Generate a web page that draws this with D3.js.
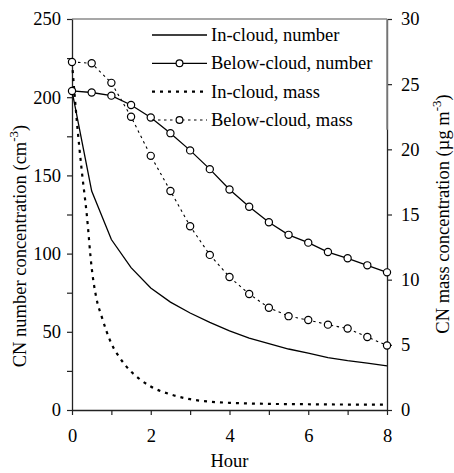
<!DOCTYPE html>
<html>
<head>
<meta charset="utf-8">
<script src="https://cdn.jsdelivr.net/npm/d3@7"></script>
<style>
body { margin: 0; background: #fff; }
svg { display: block; }
text { font-family: "Liberation Serif", "Times New Roman", serif; fill: #000; }
</style>
</head>
<body>
<svg id="graph"></svg>
<script>
// data
var hours = [0, 0.5, 1, 1.5, 2, 2.5, 3, 3.5, 4, 4.5, 5, 5.5, 6, 6.5, 7, 7.5, 8];
var inCloudNumber = [204, 140, 109, 91, 78, 69, 62, 56, 50.6, 46, 42.5, 39, 36.3, 33.5, 31.6, 30, 28.2];
var belowCloudNumber = [204, 203, 201, 195, 187, 177, 166, 154, 141, 130, 120, 112, 107, 101, 97, 92.5, 88];
var belowCloudMass = [26.7, 26.6, 25.1, 22.5, 19.5, 16.8, 14.1, 11.9, 10.2, 8.9, 7.85, 7.2, 6.9, 6.55, 6.25, 5.6, 4.95];
// in-cloud mass falls fast, read on a finer grid
var inCloudMassHours = [0, 0.125, 0.25, 0.375, 0.5, 0.625, 0.75, 1, 1.25, 1.5, 1.75, 2, 2.5, 3, 3.5, 4, 5, 6, 7, 8];
var inCloudMass = [26.7, 22.1, 18.3, 15.0, 10.9, 8.5, 7.2, 5.1, 3.85, 2.95, 2.3, 1.8, 1.2, 0.83, 0.64, 0.55, 0.47, 0.44, 0.42, 0.42];

var legendLabels = ["In-cloud, number", "Below-cloud, number", "In-cloud, mass", "Below-cloud, mass"];
var leftTicks = [0, 25, 50, 75, 100, 125, 150, 175, 200, 225, 250];
var hourTicks = [0, 1, 2, 3, 4, 5, 6, 7, 8];
var rightTicks = [0, 5, 10, 15, 20, 25, 30];

var W = 454, H = 473;
var margin = {top: 19, right: 67, bottom: 63, left: 72},
	width = W - margin.left - margin.right,
	height = H - margin.top - margin.bottom;

var svg = d3.select("#graph").attr("width", W).attr("height", H);
var g = svg.append("g").attr("transform", "translate(" + margin.left + "," + margin.top + ")");

var x = d3.scaleLinear().domain([0, 8]).range([0, width]);
var yN = d3.scaleLinear().domain([0, 250]).range([height, 0]);
var yM = d3.scaleLinear().domain([0, 30]).range([height, 0]);

// frame top (gray)
g.append("line").attr("x1", 0).attr("x2", width).attr("y1", 0).attr("y2", 0)
	.attr("stroke", "#8a8a8a").attr("stroke-width", 1.3);

// axes
var fontSize = 18.5;
var left = g.append("g")
	.call(d3.axisLeft(yN).tickValues(leftTicks).tickSize(5).tickSizeOuter(0).tickPadding(6)
		.tickFormat(function (d) { return d % 50 == 0 ? d : ""; }));
var bottom = g.append("g").attr("transform", "translate(0," + height + ")")
	.call(d3.axisBottom(x).tickValues(hourTicks).tickSize(5).tickSizeOuter(0).tickPadding(14)
		.tickFormat(function (d) { return d % 2 == 0 ? d : ""; }));
var right = g.append("g").attr("transform", "translate(" + width + ",0)")
	.call(d3.axisRight(yM).tickValues(rightTicks).tickSize(5).tickSizeOuter(0).tickPadding(9));

[left, bottom, right].forEach(function (a) {
	a.attr("font-family", null);
	a.selectAll("path.domain").attr("stroke", "#222").attr("stroke-width", 1.3);
	a.selectAll(".tick line").attr("stroke", "#222").attr("stroke-width", 1.2);
	a.selectAll("text").attr("font-size", fontSize);
});

// gray top segment of right edge (legend box border)
g.append("line").attr("x1", width).attr("x2", width).attr("y1", 0).attr("y2", yM(21.5))
	.attr("stroke", "#8a8a8a").attr("stroke-width", 1.6);

// axis titles
svg.append("text")
	.attr("x", margin.left + width / 2).attr("y", 467)
	.attr("text-anchor", "middle").attr("font-size", fontSize)
	.text("Hour");

var lt = svg.append("text")
	.attr("transform", "translate(26," + 246 + ") rotate(-90)")
	.attr("text-anchor", "middle").attr("font-size", fontSize);
lt.append("tspan").text("CN number concentration (cm");
lt.append("tspan").attr("dy", -8).attr("font-size", 13).text("-3");
lt.append("tspan").attr("dy", 8).text(")");

var rt = svg.append("text")
	.attr("transform", "translate(449," + 214 + ") rotate(-90)")
	.attr("text-anchor", "middle").attr("font-size", fontSize);
rt.append("tspan").text("CN mass concentration (\u00b5g m");
rt.append("tspan").attr("dy", -8).attr("font-size", 13).text("-3");
rt.append("tspan").attr("dy", 8).text(")");

// series
var lineN = d3.line()
	.x(function (d) { return x(d[0]); })
	.y(function (d) { return yN(d[1]); });
var lineM = d3.line()
	.x(function (d) { return x(d[0]); })
	.y(function (d) { return yM(d[1]); });
var lineMsmooth = d3.line()
	.curve(d3.curveMonotoneX)
	.x(function (d) { return x(d[0]); })
	.y(function (d) { return yM(d[1]); });

function pairs(xs, ys) {
	return xs.map(function (h, i) { return [h, ys[i]]; });
}

var styles = [
	{dash: null, width: 1.3, marker: false},
	{dash: null, width: 1.3, marker: true},
	{dash: "3,5", width: 2.2, marker: false},
	{dash: "2.5,3.5", width: 1.1, marker: true}
];

var inN = pairs(hours, inCloudNumber);
var beN = pairs(hours, belowCloudNumber);
var inM = pairs(inCloudMassHours, inCloudMass);
var beM = pairs(hours, belowCloudMass);

function drawPath(data, gen, st) {
	g.append("path")
		.datum(data)
		.attr("fill", "none")
		.attr("stroke", "#000")
		.attr("stroke-width", st.width)
		.attr("stroke-dasharray", st.dash)
		.attr("d", gen);
}

function drawDots(data, yScale) {
	g.selectAll(null)
		.data(data)
		.enter().append("circle")
		.attr("r", 3.6)
		.attr("fill", "#fff")
		.attr("stroke", "#000")
		.attr("stroke-width", 1.2)
		.attr("cx", function (d) { return x(d[0]); })
		.attr("cy", function (d) { return yScale(d[1]); });
}

drawPath(inM, lineMsmooth, styles[2]);
drawPath(beM, lineM, styles[3]);
drawPath(inN, lineN, styles[0]);
drawPath(beN, lineN, styles[1]);
drawDots(beM, yM);
drawDots(beN, yN);

// legend
var legend = svg.append("g");
var rowY = [35, 63.3, 91.7, 120];
legendLabels.forEach(function (label, i) {
	var st = styles[i];
	var row = legend.append("g").attr("transform", "translate(0," + rowY[i] + ")");
	row.append("line")
		.attr("x1", 152).attr("x2", 207).attr("y1", 0).attr("y2", 0)
		.attr("stroke", "#000").attr("stroke-width", st.width)
		.attr("stroke-dasharray", st.dash);
	if (st.marker) {
		row.append("circle").attr("cx", 179.5).attr("cy", 0).attr("r", 3.4)
			.attr("fill", "#fff").attr("stroke", "#000").attr("stroke-width", 1.2);
	}
	row.append("text")
		.attr("x", 211).attr("y", 6)
		.attr("font-size", fontSize)
		.text(label);
});
</script>
</body>
</html>
